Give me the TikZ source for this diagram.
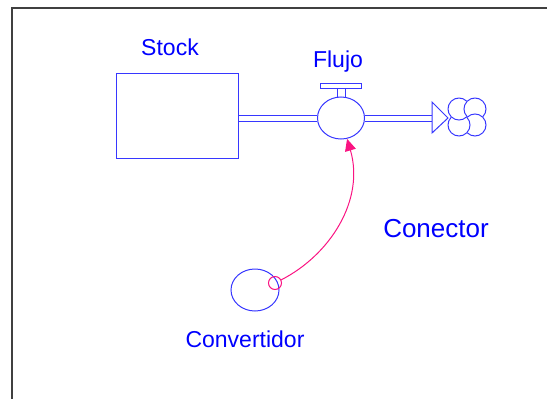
\documentclass[tikz,border=0pt]{standalone}
\usepackage{fontspec}
\setmainfont{Liberation Sans}
\usepackage{tikz}
\usetikzlibrary{arrows.meta,shapes.geometric,calc}
\definecolor{sdblue}{RGB}{55,55,255}
\definecolor{sdpink}{RGB}{250,20,130}
\tikzset{
  part/.style={draw=sdblue,line width=1pt,inner sep=0pt},
  lbl/.style={text=blue,font=\fontsize{23}{27}\selectfont,inner sep=0pt,anchor=base}
}
\begin{document}
\begin{tikzpicture}[x=1pt,y=-1pt]
\useasboundingbox (0,0) rectangle (547,399);
\draw[line width=2pt,black!75] (12,399) -- (12,8) -- (547,8);
\node[part,rectangle,minimum width=122pt,minimum height=85pt] (stock) at (177,115.5) {};
\node[part,ellipse,minimum width=47pt,minimum height=42pt] (valve) at (341,118) {};
\node[part,rectangle,minimum width=41pt,minimum height=5pt] (valvetop) at (341,85.5) {};
\node[part,ellipse,minimum width=48pt,minimum height=42pt] (conv) at (255,290) {};
\node[draw=sdpink,circle,line width=1pt,minimum size=13pt,inner sep=0pt] (cnode) at (275,283) {};
\coordinate (arrowbase) at (432,118);
\coordinate (cloud) at (467,117);
\node[lbl] (stocklbl) at (170,55) {Stock};
\node[lbl] (flujolbl) at (338,67) {Flujo};
\node[lbl,font=\fontsize{26}{30}\selectfont] (conectorlbl) at (436,237) {Conector};
\node[lbl] (convlbl) at (245,347) {Convertidor};
\foreach \d in {-3,3} {
  \draw[part] ($(stock.east |- valve)+(0,\d)$) -- ($(valve.west)+(0.3,\d)$);
  \draw[part] ($(valve.east)+(-0.3,\d)$) -- ($(arrowbase)+(0,\d)$);
}
\draw[part] ($(arrowbase)+(0,-16)$) -- ($(arrowbase)+(16,0)$) -- ($(arrowbase)+(0,15)$) -- cycle;
\draw[part] ([xshift=-4pt]valve.north) -- ([xshift=-4pt]valvetop.south);
\draw[part] ([xshift=4pt]valve.north) -- ([xshift=4pt]valvetop.south);
\foreach \a in {45,135,225,315}
  \draw[part] ($(cloud)+(\a:11.3)+(\a+180:11)$) arc[start angle=\a+180,end angle=\a+450,radius=11];
\draw[sdpink,line width=1pt,-{Triangle[length=12pt,width=11pt]}] (cnode) .. controls (330,255) and (365,200) .. (valve);
\end{tikzpicture}
\end{document}
